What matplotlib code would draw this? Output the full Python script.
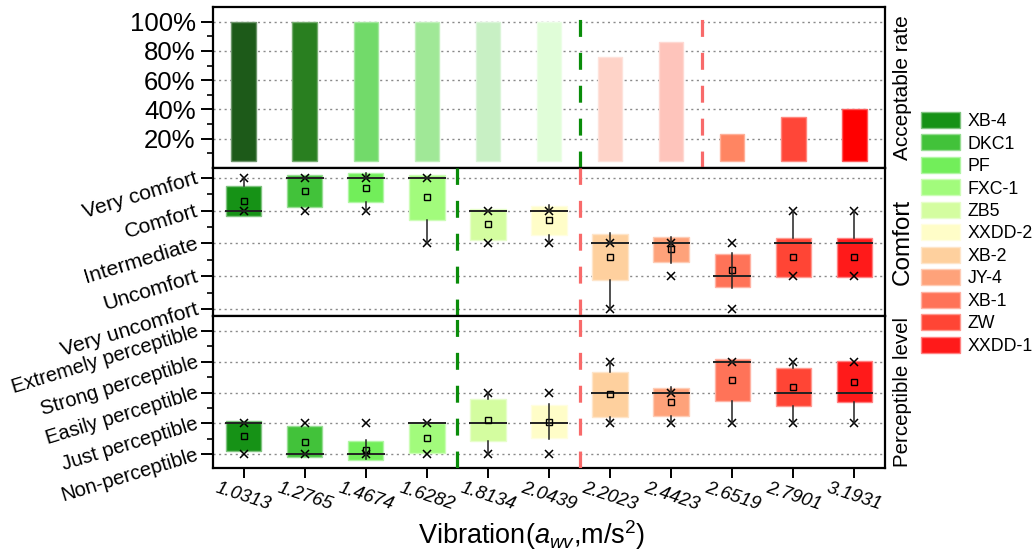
import numpy as np
import matplotlib
matplotlib.use("Agg")
import matplotlib.pyplot as plt
from matplotlib.patches import Patch
from matplotlib.ticker import FixedLocator
from matplotlib.colors import to_rgb

plt.rcParams['font.family'] = ['Liberation Sans', 'DejaVu Sans']
plt.rcParams['mathtext.fontset'] = 'custom'
plt.rcParams['mathtext.rm'] = 'Liberation Sans'
plt.rcParams['mathtext.it'] = 'Liberation Sans:italic'

# ---------------- data ----------------
names = ['XB-4', 'DKC1', 'PF', 'FXC-1', 'ZB5', 'XXDD-2', 'XB-2', 'JY-4', 'XB-1', 'ZW', 'XXDD-1']
vib_labels = ['1.0313', '1.2765', '1.4674', '1.6282', '1.8134', '2.0439',
              '2.2023', '2.4423', '2.6519', '2.7901', '3.1931']
accept_rate = [100, 100, 100, 100, 100, 100, 76, 86, 23, 35, 40]

comfort_levels = ['Very uncomfort', 'Uncomfort', 'Intermediate', 'Comfort', 'Very comfort']
comfort_mean = [4.30, 4.59, 4.70, 4.41, 3.58, 3.71, 2.58, 2.82, 2.18, 2.58, 2.58]
comfort_sd = [0.46, 0.485, 0.45, 0.685, 0.48, 0.44, 0.70, 0.37, 0.51, 0.60, 0.60]
comfort_median = [4, 5, 5, 5, 4, 4, 3, 3, 2, 3, 3]
comfort_min = [4, 4, 4, 3, 3, 3, 1, 2, 1, 2, 2]
comfort_max = [5, 5, 5, 5, 4, 4, 3, 3, 3, 4, 4]
comfort_whi_from = [4.76, 5.07, 5.0, 5.09, 4.05, 4.0, 3.0, 3.0, 2.0, 3.18, 3.18]
comfort_whi_to = [5.0, 5.07, 5.16, 5.09, 4.05, 4.17, 3.33, 3.2, 2.70, 4.0, 4.0]
comfort_wlo_from = [3.84, 4.10, 4.25, 3.72, 3.09, 3.26, 1.88, 3.0, 2.0, 1.99, 1.99]
comfort_wlo_to = [3.84, 4.10, 4.0, 3.0, 3.09, 3.03, 1.0, 2.41, 1.63, 1.99, 1.99]

percept_levels = ['Non-perceptible', 'Just perceptible', 'Easily perceptible',
                  'Strong perceptible', 'Extremely perceptible']
percept_mean = [1.59, 1.41, 1.12, 1.515, 2.11, 2.05, 2.94, 2.70, 3.41, 3.175, 3.355]
percept_sd = [0.49, 0.49, 0.31, 0.485, 0.68, 0.54, 0.72, 0.445, 0.69, 0.615, 0.675]
percept_median = [2, 1, 1, 2, 2, 2, 3, 3, 4, 3, 3]
percept_min = [1, 1, 1, 1, 1, 1, 2, 2, 2, 2, 2]
percept_max = [2, 2, 2, 2, 3, 3, 4, 3, 4, 4, 4]
percept_whi_from = [2.08, 1.90, 1.0, 2.0, 2.79, 2.0, 3.66, 3.0, 4.10, 3.79, 4.03]
percept_whi_to = [2.08, 1.90, 1.46, 2.0, 3.0, 2.63, 4.0, 3.19, 4.10, 4.0, 4.03]
percept_wlo_from = [1.10, 0.92, 1.0, 1.03, 1.43, 2.0, 2.22, 2.25, 2.72, 2.56, 2.68]
percept_wlo_to = [1.10, 0.92, 0.84, 1.03, 1.0, 1.48, 2.0, 2.0, 2.0, 2.0, 2.0]

# ---------------- styles ----------------
bar_colors = ['#1d5a19', '#297f20', '#72da6a', '#a0e897', '#c8f0c4', '#e0fdd8',
              '#fed3c8', '#fec4bb', '#ff8562', '#ff4638', '#ff0000']
box_colors = ['#169216', '#42c23a', '#72ee5a', '#a2fb7c', '#d4fda0', '#fffdc8',
              '#fed09e', '#fea27a', '#ff7358', '#ff4535', '#ff1a1a']


def lighter(c, f=0.45):
    r, g, b = to_rgb(c)
    return (r + (1 - r) * f, g + (1 - g) * f, b + (1 - b) * f)


W, H = 1033, 554
fig = plt.figure(figsize=(W / 100, H / 100), dpi=100)
L = 213 / W
AW = (885 - 213) / W


def axes_px(top, bottom):
    return fig.add_axes([L, 1 - bottom / H, AW, (bottom - top) / H])


ax1 = axes_px(7, 168)
ax2 = axes_px(168, 316)
ax3 = axes_px(316, 468)

x = np.arange(1, len(names) + 1)
green = '#0a8c0a'
red = '#f86a6a'
dash = (0, (5.3, 5.0))

for ax in (ax1, ax2, ax3):
    ax.set_xlim(0.5, 11.5)
    for s in ax.spines.values():
        s.set_linewidth(1.6)
    ax.tick_params(axis='y', which='major', direction='out', length=9, width=1.4, right=False)
    ax.tick_params(axis='y', which='minor', direction='out', length=4.5, width=1.2, right=False)
    ax.yaxis.grid(True, which='major', linestyle=(0, (1.5, 2.5)), color='#8a8a8a', linewidth=1.0)
    ax.set_axisbelow(True)

# --- top: acceptable rate ---
ax1.bar(x, np.array(accept_rate) - 5, bottom=5, width=0.4, color=bar_colors,
        edgecolor=[lighter(c, 0.35) for c in bar_colors], linewidth=1.0, zorder=2)
ax1.set_ylim(0, 110)
ax1.yaxis.set_major_locator(FixedLocator([20, 40, 60, 80, 100]))
ax1.yaxis.set_minor_locator(FixedLocator([10, 30, 50, 70, 90]))
ax1.set_yticklabels(['20%', '40%', '60%', '80%', '100%'], fontsize=18.5)
ax1.set_xticks([])
ax1.axvline(6.5, color=green, lw=2.3, ls=dash, zorder=3)
ax1.axvline(8.5, color=red, lw=2.3, ls=dash, zorder=3)


def box_panel(ax, mean, sd, med, vmin, vmax, whi_from, whi_to, wlo_from, wlo_to):
    stats = []
    wstats = []
    for i in range(len(mean)):
        q1 = mean[i] - sd[i]
        q3 = mean[i] + sd[i]
        stats.append(dict(med=med[i], q1=q1, q3=q3, whislo=q1, whishi=q3,
                          mean=mean[i], fliers=[vmin[i], vmax[i]]))
        wstats.append(dict(med=med[i], q1=wlo_from[i], q3=whi_from[i],
                           whislo=wlo_to[i], whishi=whi_to[i]))
    bp = ax.bxp(stats, positions=x, widths=0.58, patch_artist=True, showmeans=True,
                showcaps=False, manage_ticks=False,
                boxprops=dict(linewidth=1.0),
                medianprops=dict(color='#222222', linewidth=1.4),
                whiskerprops=dict(linewidth=0),
                meanprops=dict(marker='s', markersize=5, markerfacecolor='none',
                               markeredgecolor='black', markeredgewidth=1.0),
                flierprops=dict(marker='x', markersize=6, markeredgecolor='black',
                                markeredgewidth=1.1, linestyle='none'),
                zorder=2)
    for patch, c in zip(bp['boxes'], box_colors):
        patch.set_facecolor(c)
        patch.set_edgecolor(lighter(c, 0.45))
    for line in bp['medians']:
        xd = line.get_xdata()
        line.set_xdata([xd[0] - 0.02, xd[1] + 0.02])
    ax.bxp(wstats, positions=x, widths=0.58, showbox=False, showcaps=False,
           showfliers=False, manage_ticks=False,
           medianprops=dict(linewidth=0),
           whiskerprops=dict(color='#222222', linewidth=1.1), zorder=4)


# --- middle: comfort ---
box_panel(ax2, comfort_mean, comfort_sd, comfort_median, comfort_min, comfort_max,
          comfort_whi_from, comfort_whi_to, comfort_wlo_from, comfort_wlo_to)
ax2.set_ylim(0.79, 5.30)
ax2.yaxis.set_major_locator(FixedLocator([1, 2, 3, 4, 5]))
ax2.yaxis.set_minor_locator(FixedLocator([1.5, 2.5, 3.5, 4.5]))
ax2.set_yticklabels(comfort_levels, fontsize=15.3, rotation=17, ha='right',
                    va='center', rotation_mode='anchor')
ax2.set_xticks([])
ax2.axvline(4.5, color=green, lw=2.3, ls=dash, zorder=3)
ax2.axvline(6.5, color=red, lw=2.3, ls=dash, zorder=3)

# --- bottom: perceptible level ---
box_panel(ax3, percept_mean, percept_sd, percept_median, percept_min, percept_max,
          percept_whi_from, percept_whi_to, percept_wlo_from, percept_wlo_to)
ax3.set_ylim(0.55, 5.49)
ax3.yaxis.set_major_locator(FixedLocator([1, 2, 3, 4, 5]))
ax3.yaxis.set_minor_locator(FixedLocator([1.5, 2.5, 3.5, 4.5]))
ax3.set_yticklabels(percept_levels, fontsize=14.5, rotation=17, ha='right',
                    va='center', rotation_mode='anchor')
ax3.axvline(4.5, color=green, lw=2.3, ls=dash, zorder=3)
ax3.axvline(6.5, color=red, lw=2.3, ls=dash, zorder=3)
ax3.set_xticks(x)
ax3.set_xticklabels(vib_labels, fontsize=13.5, style='italic', rotation=-18, ha='center')
ax3.tick_params(axis='x', direction='out', length=7.5, width=1.4, top=False, pad=1)

for ax in (ax2, ax3):
    ax.tick_params(axis='y', which='major', pad=2)

# right-side panel titles
xr = 1.0 + (903 - 885) / (885 - 213)
ax1.text(xr, 0.5, 'Acceptable rate', transform=ax1.transAxes, rotation=90,
         ha='center', va='center', fontsize=15)
ax2.text(xr, 0.5, 'Comfort', transform=ax2.transAxes, rotation=90,
         ha='center', va='center', fontsize=17.5)
ax3.text(xr, 0.5, 'Perceptible level', transform=ax3.transAxes, rotation=90,
         ha='center', va='center', fontsize=14.8)

fig.text(532 / W, 1 - 535 / H, r'Vibration($a_{wv}$,m/s$^{2}$)', ha='center', va='center',
         fontsize=19.5)

handles = [Patch(facecolor=c, edgecolor=lighter(c, 0.45), linewidth=1.0) for c in box_colors]
fig.legend(handles, names, loc='upper left', bbox_to_anchor=(921 / W, 1 - 112 / H),
           frameon=False, fontsize=12.8, handlelength=2.2, handleheight=1.0,
           labelspacing=0.25, handletextpad=0.42, borderpad=0, borderaxespad=0)

fig.savefig('out.png', dpi=100)
